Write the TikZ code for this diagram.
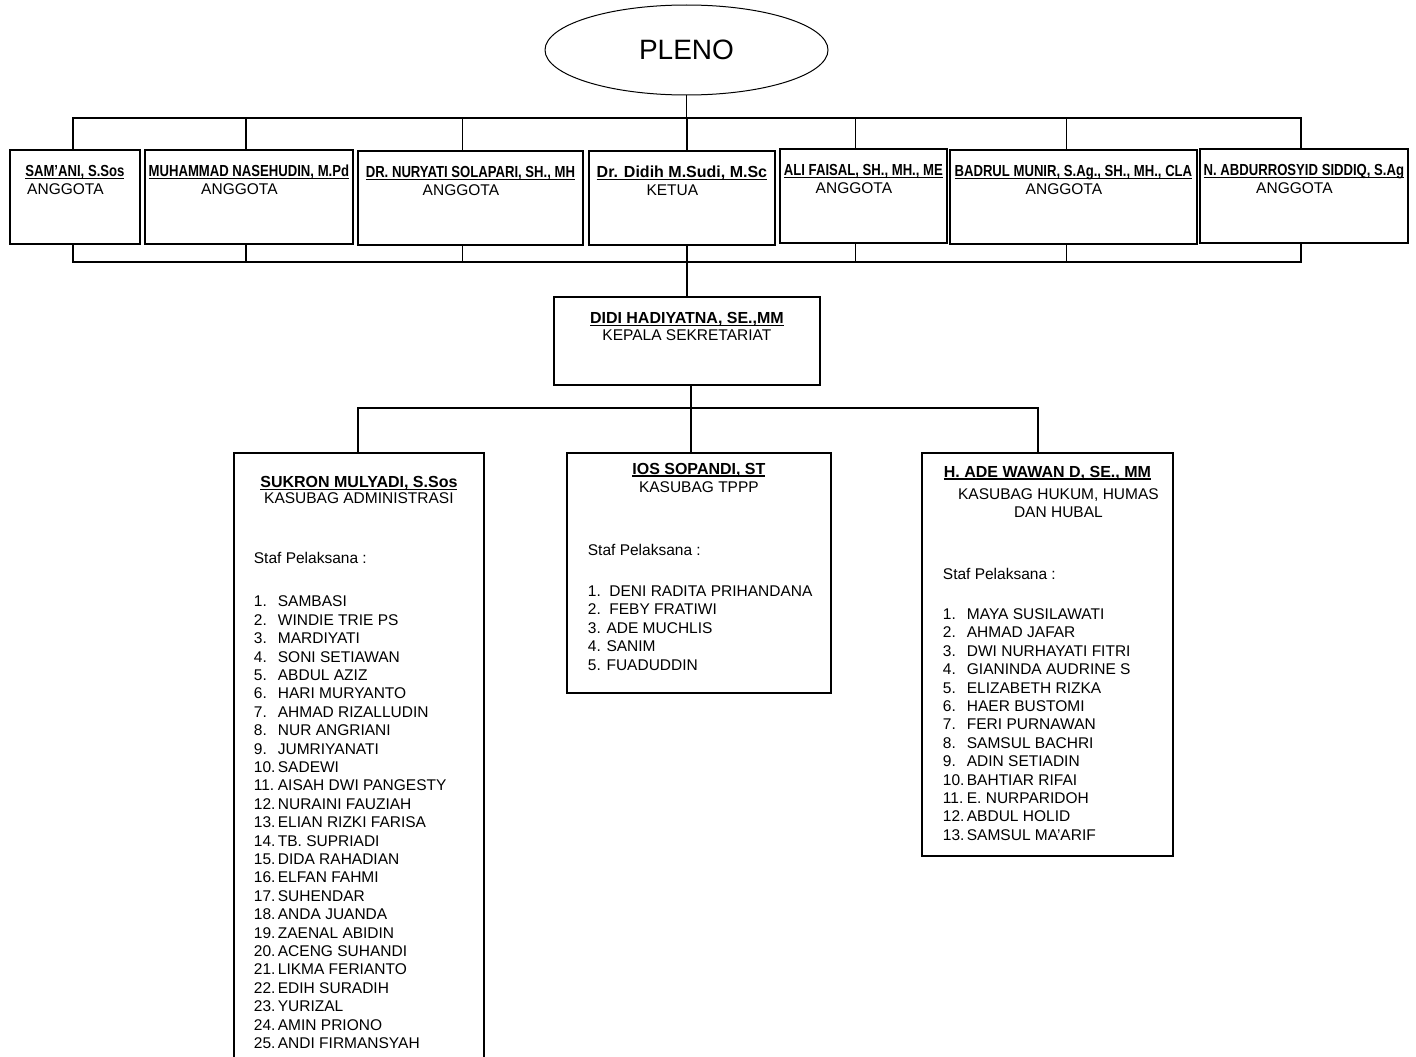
\documentclass[tikz,border=0pt]{standalone}
\usepackage{fontspec}
\setmainfont{Liberation Sans}
\newfontfamily\narrowfont[FakeStretch=0.82]{Liberation Sans}
\usetikzlibrary{shapes.geometric}
\tikzstyle{member} = [rectangle, draw=black, line width=1.8pt, inner sep=0pt, anchor=north west, font=\fontsize{15.5}{18.4}\selectfont]
\tikzstyle{plenary} = [ellipse, draw=black, line width=1pt, minimum width=283pt, minimum height=90pt, inner sep=0pt, font=\fontsize{28}{30}\selectfont]
\tikzstyle{link} = [line width=1.6pt, line cap=rect]
\newcommand{\nameline}[1]{{\fontsize{16}{18}\selectfont\bfseries\setbox0=\hbox{#1}\rlap{\rule[-2.2pt]{\wd0}{1.3pt}}\box0}}
\newcommand{\topcard}[4]{\parbox[t][94pt][t]{#1}{\centering\rule{0pt}{27pt}{#2\nameline{#3}}\\[-0.4pt]\hspace*{-19pt}#4}}
\newcommand{\nr}[1]{\makebox[24pt][l]{#1}}

\begin{document}
\begin{tikzpicture}[x=1pt, y=-1pt]
    \useasboundingbox (0,0) rectangle (1416,1057);
    \node (pleno) [plenary] at (686.5,50) {PLENO};
    % anggota pleno
    \node (m1) [member] at (9,149) {\topcard{130pt}{\narrowfont}{SAM’ANI, S.Sos}{ANGGOTA}};
    \node (m2) [member] at (144,149) {\topcard{208pt}{\narrowfont}{MUHAMMAD NASEHUDIN, M.Pd}{ANGGOTA}};
    \node (m3) [member] at (357,150) {\topcard{225pt}{\narrowfont}{DR. NURYATI SOLAPARI, SH., MH}{ANGGOTA}};
    \node (m4) [member] at (588,150) {\topcard{186pt}{}{Dr. Didih M.Sudi, M.Sc}{KETUA}};
    \node (m5) [member] at (779,148) {\topcard{167pt}{\narrowfont}{ALI FAISAL, SH., MH., ME}{ANGGOTA}};
    \node (m6) [member] at (949,149) {\topcard{247pt}{\narrowfont}{BADRUL MUNIR, S.Ag., SH., MH., CLA}{ANGGOTA}};
    \node (m7) [member] at (1199,148) {\topcard{208pt}{\narrowfont}{N. ABDURROSYID SIDDIQ, S.Ag}{ANGGOTA}};
    % sekretariat
    \node (kepala) [member] at (553,296) {\parbox[t][88pt][t]{266pt}{\centering\rule{0pt}{27pt}\nameline{DIDI HADIYATNA, SE.,MM}\\[-1.4pt]KEPALA SEKRETARIAT}};
    \node (s1) [member] at (233,452) {\parbox[t][640pt][t]{250pt}{%
        {\centering\rule{0pt}{35pt}\nameline{SUKRON MULYADI, S.Sos}\\[-2.4pt]KASUBAG ADMINISTRASI\par}%
        \vspace{41.6pt}%
        \leftskip=20pt Staf Pelaksana :\\[24.6pt]
        \nr{1.}SAMBASI\\ \nr{2.}WINDIE TRIE PS\\ \nr{3.}MARDIYATI\\ \nr{4.}SONI SETIAWAN\\
        \nr{5.}ABDUL AZIZ\\ \nr{6.}HARI MURYANTO\\ \nr{7.}AHMAD RIZALLUDIN\\ \nr{8.}NUR ANGRIANI\\
        \nr{9.}JUMRIYANATI\\ \nr{10.}SADEWI\\ \nr{11.}AISAH DWI PANGESTY\\ \nr{12.}NURAINI FAUZIAH\\
        \nr{13.}ELIAN RIZKI FARISA\\ \nr{14.}TB. SUPRIADI\\ \nr{15.}DIDA RAHADIAN\\ \nr{16.}ELFAN FAHMI\\
        \nr{17.}SUHENDAR\\ \nr{18.}ANDA JUANDA\\ \nr{19.}ZAENAL ABIDIN\\ \nr{20.}ACENG SUHANDI\\
        \nr{21.}LIKMA FERIANTO\\ \nr{22.}EDIH SURADIH\\ \nr{23.}YURIZAL\\ \nr{24.}AMIN PRIONO\\
        \nr{25.}ANDI FIRMANSYAH\par}};
    \node (s2) [member] at (566,452) {\parbox[t][240pt][t]{264pt}{%
        {\centering\rule{0pt}{21.5pt}\nameline{IOS SOPANDI, ST}\\[-0.4pt]KASUBAG TPPP\par}%
        \vspace{44.6pt}%
        \leftskip=21pt Staf Pelaksana :\\[22.6pt]
        1.\ \ DENI RADITA PRIHANDANA\\ 2.\ \ FEBY FRATIWI\\ 3. ADE MUCHLIS\\ 4. SANIM\\ 5. FUADUDDIN\par}};
    \node (s3) [member] at (921,452) {\parbox[t][403pt][t]{251pt}{%
        {\centering\rule{0pt}{24.5pt}\nameline{H. ADE WAWAN D, SE., MM}\\[3.6pt]\hspace*{22pt}KASUBAG HUKUM, HUMAS\\[-0.4pt]\hspace*{22pt}DAN HUBAL\par}%
        \vspace{43.6pt}%
        \leftskip=21pt Staf Pelaksana :\\[21.6pt]
        \nr{1.}MAYA SUSILAWATI\\ \nr{2.}AHMAD JAFAR\\ \nr{3.}DWI NURHAYATI FITRI\\ \nr{4.}GIANINDA AUDRINE S\\
        \nr{5.}ELIZABETH RIZKA\\ \nr{6.}HAER BUSTOMI\\ \nr{7.}FERI PURNAWAN\\ \nr{8.}SAMSUL BACHRI\\
        \nr{9.}ADIN SETIADIN\\ \nr{10.}BAHTIAR RIFAI\\ \nr{11.}E. NURPARIDOH\\ \nr{12.}ABDUL HOLID\\
        \nr{13.}SAMSUL MA’ARIF\par}};
    % garis
    \coordinate (topbus) at (686,118);
    \coordinate (botbus) at (686,262);
    \coordinate (lowbus) at (690,408);
    \coordinate (topleft) at ([xshift=-2pt]m1.north);
    \coordinate (topright) at ([xshift=-3pt]m7.north);
    \coordinate (botleft) at ([xshift=-2pt]m1.south);
    \coordinate (botright) at ([xshift=-3pt]m7.south);
    \coordinate (lowleft) at ([xshift=-1pt]s1.north);
    \coordinate (lowright) at ([xshift=-9.5pt]s3.north);
    \coordinate (kdown) at ([xshift=4pt]kepala.south);
    \draw [link] (pleno.south) -- (pleno.south |- topbus);
    \foreach \m/\dx in {m1/-2, m2/-3, m3/-8, m4/5, m5/-8, m6/-7, m7/-3} {
        \coordinate (tap) at ([xshift=\dx pt]\m.north);
        \draw [link] (tap) -- (tap |- topbus);
        \coordinate (tap) at ([xshift=\dx pt]\m.south);
        \draw [link] (tap) -- (tap |- botbus);
    }
    \draw [link] (topleft |- topbus) -- (topright |- topbus);
    \draw [link] (botleft |- botbus) -- (botright |- botbus);
    \draw [link] (kepala.north) -- (kepala.north |- botbus);
    \draw [link] (kdown) -- (kdown |- lowbus);
    \foreach \s/\dx in {s1/-1, s2/-8, s3/-9.5} {
        \coordinate (tap) at ([xshift=\dx pt]\s.north);
        \draw [link] (tap) -- (tap |- lowbus);
    }
    \draw [link] (lowleft |- lowbus) -- (lowright |- lowbus);
\end{tikzpicture}
\end{document}
